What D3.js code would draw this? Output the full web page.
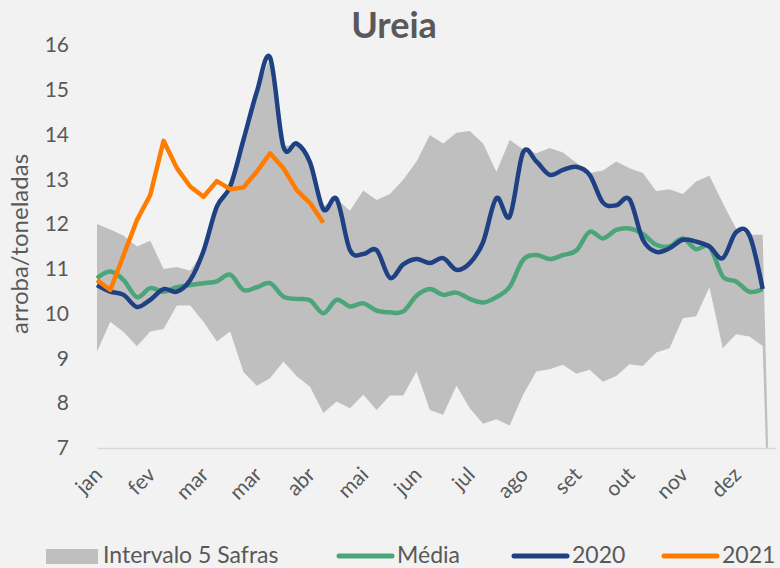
<!DOCTYPE html>
<html>
<head>
<meta charset="utf-8">
<script src="https://cdn.jsdelivr.net/npm/d3@7"></script>
<style>
  body { margin: 0; background: #f2f2f2; }
  text { font-family: Lato, "Open Sans", sans-serif; fill: #595959; }
</style>
</head>
<body>
<script>
// Weekly prices (arroba/tonelada), 52 weeks; the last week of the band is empty (0)
var monthLabels = ["jan", "fev", "mar", "mar", "abr", "mai", "jun", "jul", "ago", "set", "out", "nov", "dez"];
var yTicks = [7, 8, 9, 10, 11, 12, 13, 14, 15, 16];

var minValues = [9.15, 9.82, 9.59, 9.27, 9.6, 9.66, 10.18, 10.18, 9.82, 9.38,
  9.6, 8.7, 8.39, 8.56, 8.93, 8.6, 8.37, 7.78, 8.04, 7.89,
  8.19, 7.85, 8.17, 8.17, 8.71, 7.85, 7.74, 8.39, 7.89, 7.54,
  7.64, 7.5, 8.19, 8.71, 8.76, 8.86, 8.66, 8.75, 8.48, 8.61,
  8.87, 8.83, 9.13, 9.23, 9.9, 9.94, 10.59, 9.23, 9.54, 9.49,
  9.28, 0];

var maxValues = [12.0, 11.88, 11.74, 11.5, 11.63, 11.0, 11.04, 10.96, 11.4, 12.39,
  12.84, 13.88, 14.95, 15.72, 13.73, 13.8, 13.38, 12.4, 12.56, 12.3,
  12.75, 12.54, 12.67, 12.99, 13.4, 13.99, 13.8, 14.04, 14.08, 13.8,
  13.17, 13.88, 13.67, 13.58, 13.7, 13.6, 13.37, 13.14, 13.2, 13.4,
  13.25, 13.14, 12.74, 12.78, 12.67, 12.95, 13.08, 12.47, 11.9, 11.76,
  11.76, 0];

var mediaValues = [10.79, 10.94, 10.75, 10.37, 10.57, 10.49, 10.59, 10.64, 10.68, 10.72,
  10.87, 10.53, 10.59, 10.68, 10.38, 10.33, 10.3, 10.01, 10.31, 10.16,
  10.23, 10.07, 10.03, 10.05, 10.4, 10.55, 10.42, 10.47, 10.33, 10.25,
  10.37, 10.6, 11.2, 11.31, 11.22, 11.31, 11.41, 11.83, 11.68, 11.87,
  11.9, 11.78, 11.54, 11.5, 11.68, 11.44, 11.5, 10.83, 10.72, 10.49,
  10.55];

var values2020 = [10.64, 10.49, 10.42, 10.15, 10.31, 10.55, 10.49, 10.75, 11.4, 12.39,
  12.84, 13.88, 14.95, 15.72, 13.73, 13.8, 13.38, 12.33, 12.56, 11.42,
  11.33, 11.42, 10.8, 11.1, 11.22, 11.13, 11.24, 10.98, 11.13, 11.6,
  12.58, 12.17, 13.6, 13.4, 13.1, 13.21, 13.28, 13.1, 12.48, 12.42,
  12.55, 11.65, 11.38, 11.46, 11.65, 11.61, 11.5, 11.24, 11.82, 11.75,
  10.55];

var values2021 = [10.75, 10.53, 11.31, 12.09, 12.65, 13.86, 13.25, 12.84, 12.61, 12.96,
  12.78, 12.82, 13.17, 13.58, 13.25, 12.76, 12.47, 12.03];

var svgWidth = 780;
var svgHeight = 568;

var svg = d3.select("body")
  .append("svg")
  .attr("width", svgWidth)
  .attr("height", svgHeight)
  .style("background", "#f2f2f2");

// scales
var xScale = d3.scaleLinear()
  .domain([0, 51])
  .range([97, 776]);

var yScale = d3.scaleLinear()
  .domain([7, 16])
  .range([448, 45]);

// title
svg.append("text")
  .attr("x", 394)
  .attr("y", 38)
  .attr("text-anchor", "middle")
  .style("font-size", "36px")
  .style("font-weight", "bold")
  .text("Ureia");

// clip to plot area (band drops to zero at the end)
svg.append("clipPath")
  .attr("id", "plotClip")
  .append("rect")
  .attr("x", 97)
  .attr("y", 0)
  .attr("width", 679)
  .attr("height", 448);

var band = minValues.map(function(v, i) {
  return { i: i, lo: v, hi: maxValues[i] };
});

var bandArea = d3.area()
  .x(d => xScale(d.i))
  .y0(d => yScale(d.lo))
  .y1(d => yScale(d.hi));

svg.append("path")
  .datum(band)
  .attr("clip-path", "url(#plotClip)")
  .attr("fill", "#bfbfc0")
  .attr("d", bandArea);

// axes
var bottomAxis = d3.axisBottom(xScale)
  .tickValues(d3.range(0, 52, 4))
  .tickSize(0)
  .tickFormat((d, k) => monthLabels[k]);

var xAxisGroup = svg.append("g")
  .attr("transform", "translate(0, 448)")
  .call(bottomAxis);

xAxisGroup.select(".domain")
  .attr("stroke", "#d9d9d9")
  .attr("stroke-width", 1.5);

xAxisGroup.selectAll("text")
  .attr("text-anchor", "end")
  .attr("dy", null)
  .attr("y", 0)
  .attr("transform", "translate(6, 28) rotate(-45)")
  .style("font-size", "21px")
  .style("fill", "#595959");

var leftAxis = d3.axisLeft(yScale)
  .tickValues(yTicks)
  .tickSize(0)
  .tickPadding(0);

var yAxisGroup = svg.append("g")
  .attr("transform", "translate(69, 0)")
  .call(leftAxis);

yAxisGroup.select(".domain").remove();
yAxisGroup.selectAll("text")
  .style("font-size", "21px")
  .style("fill", "#595959");

// y axis title
svg.append("text")
  .attr("transform", "translate(28, 244) rotate(-90)")
  .attr("text-anchor", "middle")
  .style("font-size", "24px")
  .text("arroba/toneladas");

// lines
var smoothLine = d3.line()
  .x((d, i) => xScale(i))
  .y(d => yScale(d))
  .curve(d3.curveCardinal.tension(0));

var straightLine = d3.line()
  .x((d, i) => xScale(i))
  .y(d => yScale(d));

svg.append("path")
  .datum(mediaValues)
  .attr("fill", "none")
  .attr("stroke", "#4ba579")
  .attr("stroke-width", 4.5)
  .attr("stroke-linejoin", "round")
  .attr("d", smoothLine);

svg.append("path")
  .datum(values2020)
  .attr("fill", "none")
  .attr("stroke", "#1f4082")
  .attr("stroke-width", 4.5)
  .attr("stroke-linejoin", "round")
  .attr("d", smoothLine);

svg.append("path")
  .datum(values2021)
  .attr("fill", "none")
  .attr("stroke", "#ff7c00")
  .attr("stroke-width", 4.5)
  .attr("stroke-linejoin", "round")
  .attr("d", straightLine);

// legend
var legend = svg.append("g");

legend.append("rect")
  .attr("x", 46)
  .attr("y", 549)
  .attr("width", 52)
  .attr("height", 15)
  .attr("fill", "#bfbfc0");

var legendLines = [
  { x: 339, color: "#4ba579", label: "Média" },
  { x: 514, color: "#1f4082", label: "2020" },
  { x: 664, color: "#ff7c00", label: "2021" }
];

legend.append("text")
  .attr("x", 103)
  .attr("y", 563)
  .style("font-size", "23px")
  .text("Intervalo 5 Safras");

legendLines.forEach(function(item) {
  legend.append("line")
    .attr("x1", item.x)
    .attr("x2", item.x + 53)
    .attr("y1", 556)
    .attr("y2", 556)
    .attr("stroke", item.color)
    .attr("stroke-width", 5)
    .attr("stroke-linecap", "round");
  legend.append("text")
    .attr("x", item.x + 58)
    .attr("y", 563)
    .style("font-size", "23px")
    .text(item.label);
});
</script>
</body>
</html>
